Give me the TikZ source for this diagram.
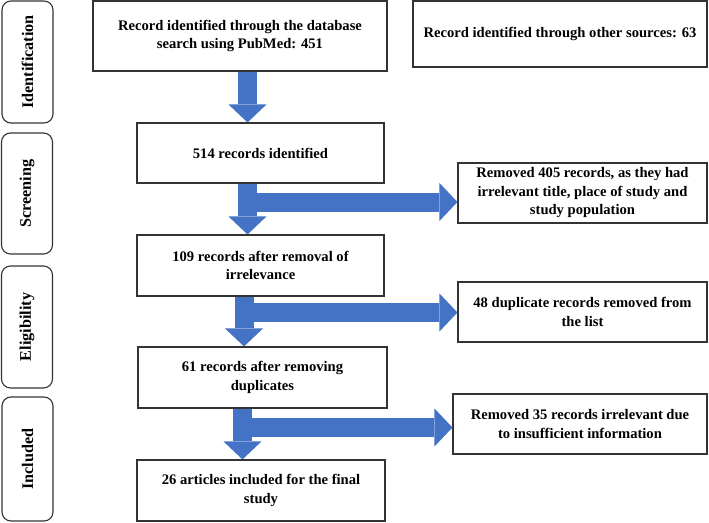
\documentclass[tikz,border=0pt]{standalone}
\usepackage{fontspec}
\setmainfont{Liberation Serif}
\usetikzlibrary{arrows.meta}
\definecolor{flowblue}{HTML}{4472C4}

\begin{document}
\begin{tikzpicture}[x=1pt, y=-1pt,
    box/.style={draw=black!80, line width=1.1pt, fill=white, align=center, inner sep=0pt,
      font=\fontsize{14.6}{18.5}\selectfont\bfseries},
    phase/.style={draw=black!80, line width=1.1pt, rounded corners=9pt, rotate=90, inner sep=0pt,
      minimum height=51pt, font=\fontsize{16.2}{18}\selectfont\bfseries},
    flow/.style={draw=flowblue, line width=19pt, shorten <=0.6pt,
      -{Triangle[width=38pt, length=18pt, line width=0pt]}}]
            \useasboundingbox (0,0) rectangle (709,522);
            % phases on the left
            \node[phase, minimum width=122pt] (idlab) at (27.5,62) {Identification};
            \node[phase, minimum width=121pt] (scrlab) at (27,193.5) {Screening};
            \node[phase, minimum width=122pt] (elilab) at (27,327) {Eligibility};
            \node[phase, minimum width=124pt] (inclab) at (27.5,459) {Included};
            % records
            \node[box, minimum width=294pt, minimum height=70pt] (pubmed) at (240,36)
              {Record identified through the database\\search using PubMed: 451};
            \node[box, minimum width=294pt, minimum height=66pt] (other) at (560,34)
              {Record identified through other sources: 63};
            \node[box, minimum width=247pt, minimum height=60pt] (ident) at (260.5,153)
              {514 records identified};
            \node[box, minimum width=249pt, minimum height=60pt] (rem405) at (582.5,193)
              {Removed 405 records, as they had\\irrelevant title, place of study and\\study population};
            \node[box, minimum width=247pt, minimum height=61pt] (irrel) at (260.5,265.5)
              {109 records after removal of\\irrelevance};
            \node[box, minimum width=249pt, minimum height=60pt] (dup48) at (582.5,312)
              {48 duplicate records removed from\\the list};
            \node[box, minimum width=249pt, minimum height=61pt] (dedup) at (262.5,377.5)
              {61 records after removing\\duplicates};
            \node[box, minimum width=254pt, minimum height=60pt] (rem35) at (580,424)
              {Removed 35 records irrelevant due\\to insufficient information};
            \node[box, minimum width=248pt, minimum height=61pt] (final) at (261,490.5)
              {26 articles included for the final\\study};
            % block arrows
            \coordinate (s1) at (247.5,0);
            \draw[flow] (pubmed.south -| s1) -- (ident.north -| s1);
            \coordinate (s2) at (247.5,202);
            \draw[flow] (ident.south -| s2) -- (irrel.north -| s2);
            \draw[flow] (s2) -- (rem405.west |- s2);
            \coordinate (s3) at (244,312.5);
            \draw[flow] (irrel.south -| s3) -- (dedup.north -| s3);
            \draw[flow] (s3) -- (dup48.west |- s3);
            \coordinate (s4) at (242.5,427.5);
            \draw[flow] (dedup.south -| s4) -- (final.north -| s4);
            \draw[flow] (s4) -- (rem35.west |- s4);
\end{tikzpicture}
\end{document}
